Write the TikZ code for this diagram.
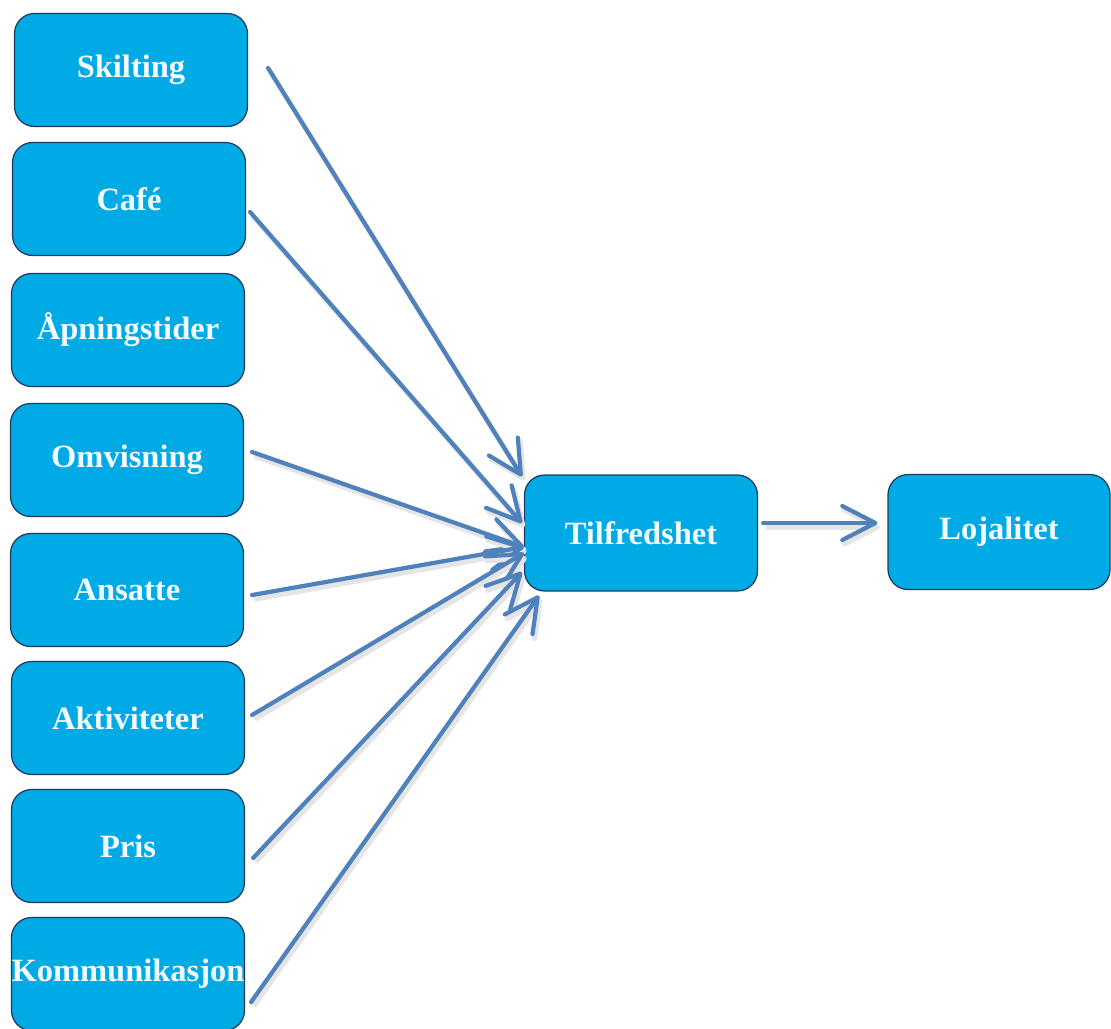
\documentclass[tikz,border=0pt]{standalone}
\usepackage{fontspec}
\setmainfont{Liberation Serif}
\usepackage{tikz}
\usetikzlibrary{arrows.meta, positioning}
\definecolor{boxcyan}{HTML}{00AAE4}
\definecolor{boxline}{HTML}{1F3A5F}
\definecolor{linkblue}{HTML}{4F81BD}
\definecolor{textwhite}{HTML}{F4FBFF}
\tikzset{
  factor/.style={draw=boxline, line width=0.7pt, fill=boxcyan, rounded corners=0.4cm,
    minimum width=4.66cm, minimum height=2.26cm, inner sep=0pt,
    text=textwhite, font=\bfseries\fontsize{18.5}{20}\selectfont},
  link/.style={draw=linkblue, line width=2.4pt, line cap=round,
    -{Straight Barb[length=0.66cm, width=0.68cm, round]},
    preaction={draw=black!10, line width=3pt, transform canvas={shift={(0.05cm,-0.08cm)}}}}
}

\begin{document}
\begin{tikzpicture}[x=0.02cm, y=-0.02cm]
  \useasboundingbox[fill=white] (0,0) rectangle (1111,1028);
  % left column: \node[factor] (name) at (x,y) {text};
  \node[factor] (skilt)  at (131,70)  {Skilting};
  \node[factor] (cafe)   at (129,199) {Café};
  \node[factor] (aapn)   at (128,330) {Åpningstider};
  \node[factor] (omvis)  at (127,460) {Omvisning};
  \node[factor] (ansatt) at (127,590) {Ansatte};
  \node[factor] (aktiv)  at (128,718) {Aktiviteter};
  \node[factor] (pris)   at (128,846) {Pris};
  \node[factor] (komm)   at (128,974) {Kommunikasjon};
  \node[factor, minimum height=2.32cm] (tilf) at (641,533) {Tilfredshet};
  \node[factor, minimum width=4.44cm, minimum height=2.3cm] (loj) at (999,532) {Lojalitet};
  % arrows into Tilfredshet
  \draw[link] ([shift={(20,-2)}]skilt.east) -- ([shift={(-2,2)}]tilf.north west);
  \draw[link] ([shift={(4,13)}]cafe.east)   -- ([shift={(-2,-10)}]tilf.west);
  \draw[link] ([shift={(8,-8)}]omvis.east)  -- ([shift={(0,14)}]tilf.west);
  \draw[link] ([shift={(8,5)}]ansatt.east)  -- ([shift={(0,14)}]tilf.west);
  \draw[link] ([shift={(7,-3)}]aktiv.east)  -- ([shift={(0,20)}]tilf.west);
  \draw[link] ([shift={(8,12)}]pris.east)   -- ([shift={(-2,39)}]tilf.west);
  \draw[link] ([shift={(6,28)}]komm.east)   -- ([shift={(15,4)}]tilf.south west);
  % Tilfredshet to Lojalitet
  \draw[link] ([shift={(5,-10)}]tilf.east) -- ([shift={(-10,-9)}]loj.west);
\end{tikzpicture}
\end{document}
